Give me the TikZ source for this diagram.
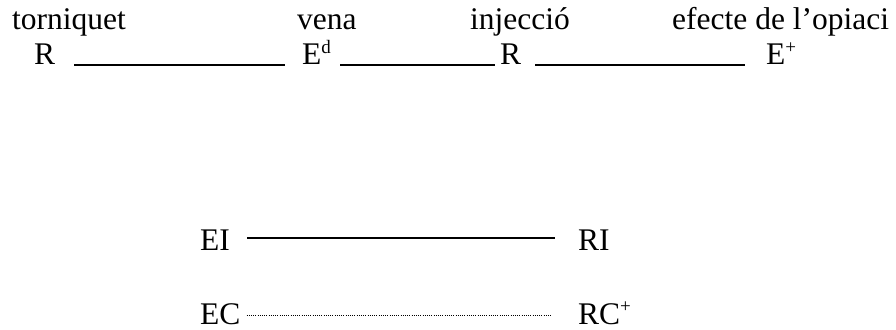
\documentclass[tikz,border=0pt]{standalone}
\usepackage{fontspec}
\setmainfont{Liberation Serif}
% raised, reduced superscript as used after E and RC
\newcommand{\hisup}[1]{\raisebox{0.38em}{\fontsize{19}{19}\selectfont #1}}
\begin{document}
\begin{tikzpicture}[x=1pt,y=1pt,
  lbl/.style={inner sep=0pt,anchor=base west,font=\fontsize{31.5}{36}\selectfont},
  conn/.style={line width=1.6pt},
  weak/.style={line width=0.9pt,dash pattern=on 0.9pt off 1.3pt}]
\useasboundingbox (0,0) rectangle (896,329);
% upper chain: captions
\node[lbl] (c1) at (12,299) {torniquet};
\node[lbl] (c2) at (297,299) {vena};
\node[lbl] (c3) at (470,299) {injecció};
\node[lbl] (c4) at (672,299) {efecte de l’opiaci};
% upper chain: stimuli and responses
\node[lbl] (r1) at (34,264) {R};
\node[lbl] (e1) at (302,264) {E\hisup{d}};
\node[lbl] (r2) at (500,264) {R};
\node[lbl] (e2) at (766,264) {E\hisup{+}};
\draw[conn] ([xshift=19pt]r1.base east) -- ([xshift=-17pt]e1.base west);
\draw[conn] ([xshift=9pt]e1.base east) -- ([xshift=-5pt]r2.base west);
\draw[conn] ([xshift=14pt]r2.base east) -- ([xshift=-21pt]e2.base west);
% lower pairs
\node[lbl] (ei) at (200,78) {EI};
\node[lbl] (ri) at (578,78) {RI};
\node[lbl] (ec) at (200,5) {EC};
\node[lbl] (rc) at (578,5) {RC\hisup{+}};
\draw[conn] ([xshift=17pt,yshift=13pt]ei.base east) -- ([xshift=-23pt,yshift=13pt]ri.base west);
\draw[weak] ([xshift=6pt,yshift=9pt]ec.base east) -- ([xshift=-26pt,yshift=9pt]rc.base west);
\end{tikzpicture}
\end{document}
